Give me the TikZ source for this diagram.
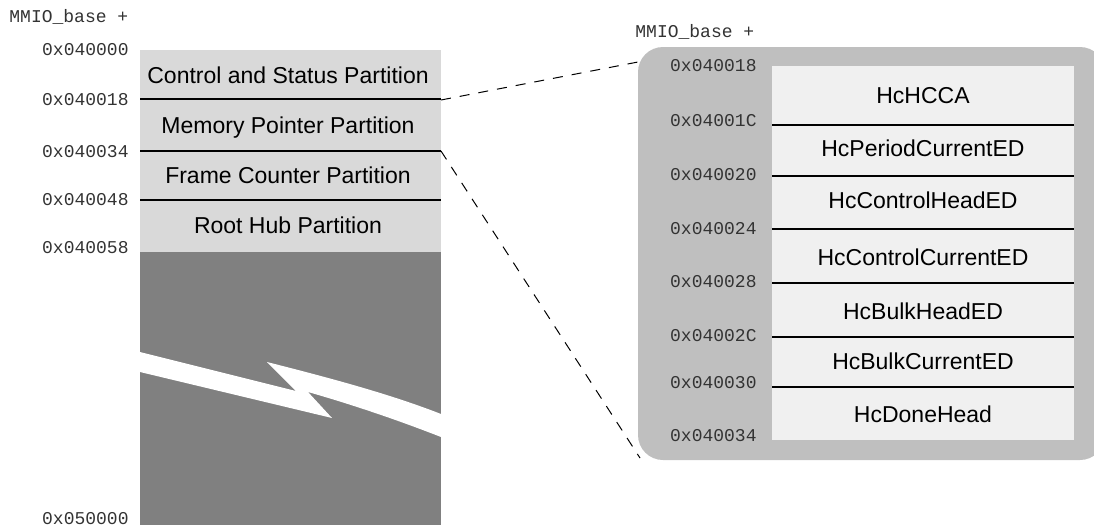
\documentclass[tikz,border=0pt]{standalone}
\usepackage{fontspec}
\setmainfont{Liberation Sans}
\setmonofont{Liberation Mono}
\definecolor{partgray}{HTML}{D9D9D9}
\definecolor{gapgray}{HTML}{808080}
\definecolor{framegray}{HTML}{BFBFBF}
\definecolor{reggray}{HTML}{F0F0F0}
\tikzset{
    addr/.style={font=\fontsize{9}{10}\ttfamily, text=black!80, inner sep=0pt, anchor=base east},
    field/.style={font=\fontsize{11.5}{13}\selectfont, inner sep=0pt, anchor=base},
    divider/.style={line width=1pt},
    zoomline/.style={line width=0.5pt, dash pattern=on 5pt off 4.5pt},
}
\begin{document}
\begin{tikzpicture}[x=0.5pt, y=-0.5pt]
    \useasboundingbox (0,0) rectangle (1094,525);
    % Memory map
    \fill[partgray] (140,50) rectangle (441,252);
    \fill[gapgray] (140,252) rectangle (441,525);
    \fill[white] (140,352) -- (296,391) -- (267,362)
        .. controls (330,378) and (390,394) .. (441,414) -- (441,437)
        .. controls (395,419) and (350,404) .. (308,392) -- (332,418) -- (140,372) -- cycle;
    \foreach \y in {99,151,200}
        \draw[divider] (140,\y) -- (441,\y);
    \node[field] (ctrl) at (288,83) {Control and Status Partition};
    \node[field] (mptr) at (288,133) {Memory Pointer Partition};
    \node[field] (fcnt) at (288,183) {Frame Counter Partition};
    \node[field] (rhub) at (288,233) {Root Hub Partition};
    \node[addr, anchor=base west] (lbase) at (9,22) {MMIO\_base +};
    \foreach \a/\y in {040000/55, 040018/105, 040034/157, 040048/205, 040058/253, 050000/524}
        \node[addr] (l\a) at (129,\y) {0x\a};

    % Memory pointer registers
    \fill[framegray, rounded corners=12.5pt] (638,47) rectangle (1105,460);
    \fill[reggray] (772,66) rectangle (1074,440);
    \foreach \y in {125,176,229,283,337,387}
        \draw[divider] (772,\y) -- (1074,\y);
    \node[field] (hcca) at (923,103) {HcHCCA};
    \node[field] (pced) at (923,156) {HcPeriodCurrentED};
    \node[field] (ched) at (923,208) {HcControlHeadED};
    \node[field] (cced) at (923,265) {HcControlCurrentED};
    \node[field] (bhed) at (923,319) {HcBulkHeadED};
    \node[field] (bced) at (923,369) {HcBulkCurrentED};
    \node[field] (done) at (923,422) {HcDoneHead};
    \node[addr, anchor=base west] (rbase) at (635,37) {MMIO\_base +};
    \foreach \a/\y in {040018/71, 04001C/126, 040020/180, 040024/234, 040028/287, 04002C/341, 040030/388, 040034/441}
        \node[addr] (r\a) at (757,\y) {0x\a};

    % Zoom lines
    \coordinate (mptrtop) at (441,100);
    \coordinate (mptrbot) at (441,151);
    \coordinate (zoomtop) at (638,62);
    \coordinate (zoombot) at (640,458);
    \draw[zoomline] (mptrtop) -- (zoomtop);
    \draw[zoomline] (mptrbot) -- (zoombot);
\end{tikzpicture}
\end{document}
